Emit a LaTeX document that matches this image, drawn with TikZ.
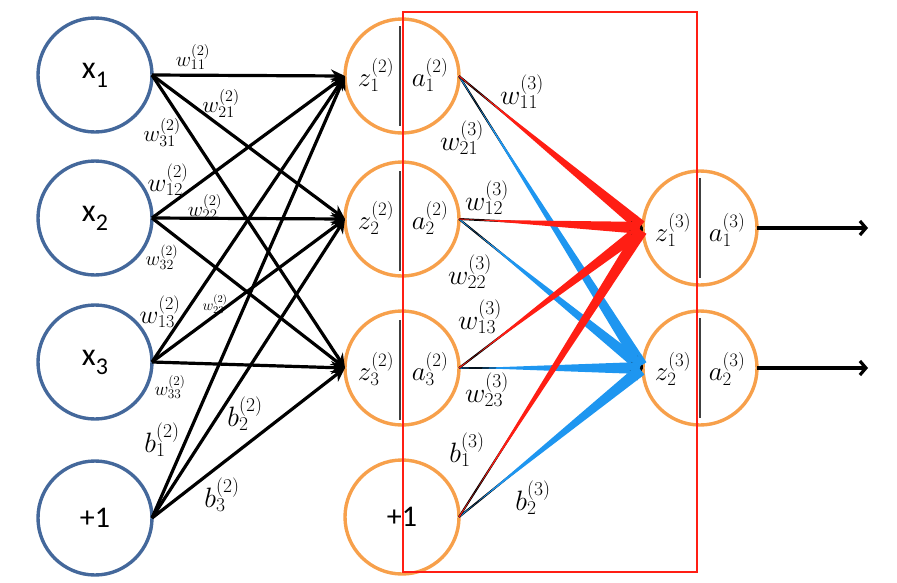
\RequirePackage{fix-cm}
\documentclass[tikz,border=0pt]{standalone}
\usepackage{fontspec}
\newfontfamily\calib{Carlito}
\usetikzlibrary{arrows.meta,calc}
\definecolor{inblue}{RGB}{68,104,155}
\definecolor{nodeor}{RGB}{247,160,75}
\definecolor{rred}{RGB}{255,30,20}
\definecolor{bblue}{RGB}{30,150,240}
\newcommand\mylab[2]{\fontsize{#1}{#1}\selectfont$#2$}
\newcommand\xlab[1]{\calib\fontsize{32}{32}\selectfont x\raisebox{-9pt}{\fontsize{24}{24}\selectfont #1}}
\newcommand\onelab{\calib\fontsize{30}{30}\selectfont +1}
\newcommand\taperline[3]{%
  \draw[black, line width=2pt, -{Stealth[length=12pt,width=12pt]}] (#2) -- (#3);
  \fill[#1] ($(#2)!0.6pt!90:(#3)$) -- ($(#2)!0.6pt!-90:(#3)$) -- ($(#3)!3pt!(#2)!6pt!-90:(#2)$) -- ($(#3)!3pt!(#2)!6pt!90:(#2)$) -- cycle;
}
\tikzset{
  inp/.style={circle, draw=inblue, line width=3.4pt, minimum size=114pt, inner sep=0pt, outer sep=0pt},
  hid/.style={circle, draw=nodeor, line width=3.4pt, minimum size=114pt, inner sep=0pt, outer sep=0pt},
  larrow/.style={draw=black, line width=3.2pt, -{Stealth[length=14pt,width=13pt]}},
  oarrow/.style={draw=black, line width=3.2pt, -{Straight Barb[length=6pt,width=14pt]}},
  divider/.style={draw=black!75, line width=1.4pt},
  lab/.style={inner sep=0pt, outer sep=0pt}
}
\begin{document}
\begin{tikzpicture}[x=1pt,y=-1pt]
\useasboundingbox (0,0) rectangle (897,582);
% input layer
\node[inp] (i1) at (95,75) {\xlab{1}};
\node[inp] (i2) at (95,218) {\xlab{2}};
\node[inp] (i3) at (95,362) {\xlab{3}};
\node[inp] (i4) at (95,518) {\onelab};
% hidden layer
\node[hid] (h1) at (402,76) {};
\node[hid] (h2) at (402,219) {};
\node[hid] (h3) at (402,368) {};
\node[hid] (h4) at (402,517) {\onelab};
% output layer
\node[hid] (o1) at (700,228) {};
\node[hid] (o2) at (700,368) {};
% dividers
\draw[divider] ($(h1)+(-2,-50)$) -- ($(h1)+(-2,50)$);
\draw[divider] ($(h2)+(-2,-48)$) -- ($(h2)+(-2,52)$);
\draw[divider] ($(h3)+(-2,-48)$) -- ($(h3)+(-2,52)$);
\draw[divider] ($(o1)+(0,-50)$) -- ($(o1)+(0,50)$);
\draw[divider] ($(o2)+(0,-50)$) -- ($(o2)+(0,50)$);
% first layer connectors
\foreach \s in {i1,i2,i3,i4}{
  \foreach \t in {h1,h2,h3}{
    \draw[larrow] (\s.east) -- (\t.west);
  }
}
% second layer connectors
\foreach \s in {h1,h2,h3,h4}{
  \taperline{bblue}{\s.east}{o2.west}
  \taperline{rred}{\s.east}{o1.west}
}
% outputs
\coordinate (e1) at (868,228);
\coordinate (e2) at (868,368);
\draw[oarrow] (o1.east) -- (e1);
\draw[oarrow] (o2.east) -- (e2);
% red frame
\node[draw=rred, line width=2.8pt, minimum width=294pt, minimum height=560pt, inner sep=0pt, outer sep=0pt] (frame) at (550,292) {};
% hidden / output labels
\node[lab] (lz1) at (376,75) {\mylab{27}{z^{(2)}_1}};
\node[lab] (la1) at (430,75) {\mylab{27}{a^{(2)}_1}};
\node[lab] (lz2) at (376,218) {\mylab{27}{z^{(2)}_2}};
\node[lab] (la2) at (430,218) {\mylab{27}{a^{(2)}_2}};
\node[lab] (lz3) at (376,369) {\mylab{27}{z^{(2)}_3}};
\node[lab] (la3) at (430,369) {\mylab{27}{a^{(2)}_3}};
\node[lab] (lo1) at (673,230) {\mylab{27}{z^{(3)}_1}};
\node[lab] (lp1) at (727,230) {\mylab{27}{a^{(3)}_1}};
\node[lab] (lo2) at (673,369) {\mylab{27}{z^{(3)}_2}};
\node[lab] (lp2) at (727,369) {\mylab{27}{a^{(3)}_2}};
% first layer weights
\node[lab] (w11a) at (193,57) {\mylab{21}{w^{(2)}_{11}}};
\node[lab] (w21a) at (221,103) {\mylab{23}{w^{(2)}_{21}}};
\node[lab] (w31a) at (162,132) {\mylab{23}{w^{(2)}_{31}}};
\node[lab] (w12a) at (168,180) {\mylab{26}{w^{(2)}_{12}}};
\node[lab] (w22a) at (205,207) {\mylab{21}{w^{(2)}_{22}}};
\node[lab] (w32a) at (162,257) {\mylab{20}{w^{(2)}_{32}}};
\node[lab] (w13a) at (160,312) {\mylab{26}{w^{(2)}_{13}}};
\node[lab] (w23a) at (215,304) {\mylab{15}{w^{(2)}_{23}}};
\node[lab] (w33a) at (170,387) {\mylab{19}{w^{(2)}_{33}}};
\node[lab] (b1a) at (162,440) {\mylab{28}{b^{(2)}_1}};
\node[lab] (b2a) at (245,414) {\mylab{28}{b^{(2)}_2}};
\node[lab] (b3a) at (222,495) {\mylab{28}{b^{(2)}_3}};
% second layer weights
\node[lab] (w11b) at (522,92) {\mylab{28}{w^{(3)}_{11}}};
\node[lab] (w21b) at (462,138) {\mylab{28}{w^{(3)}_{21}}};
\node[lab] (w12b) at (487,198) {\mylab{28}{w^{(3)}_{12}}};
\node[lab] (w22b) at (470,272) {\mylab{28}{w^{(3)}_{22}}};
\node[lab] (w13b) at (480,317) {\mylab{28}{w^{(3)}_{13}}};
\node[lab] (w23b) at (487,390) {\mylab{28}{w^{(3)}_{23}}};
\node[lab] (b1b) at (467,450) {\mylab{28}{b^{(3)}_1}};
\node[lab] (b2b) at (533,498) {\mylab{28}{b^{(3)}_2}};
\end{tikzpicture}
\end{document}
